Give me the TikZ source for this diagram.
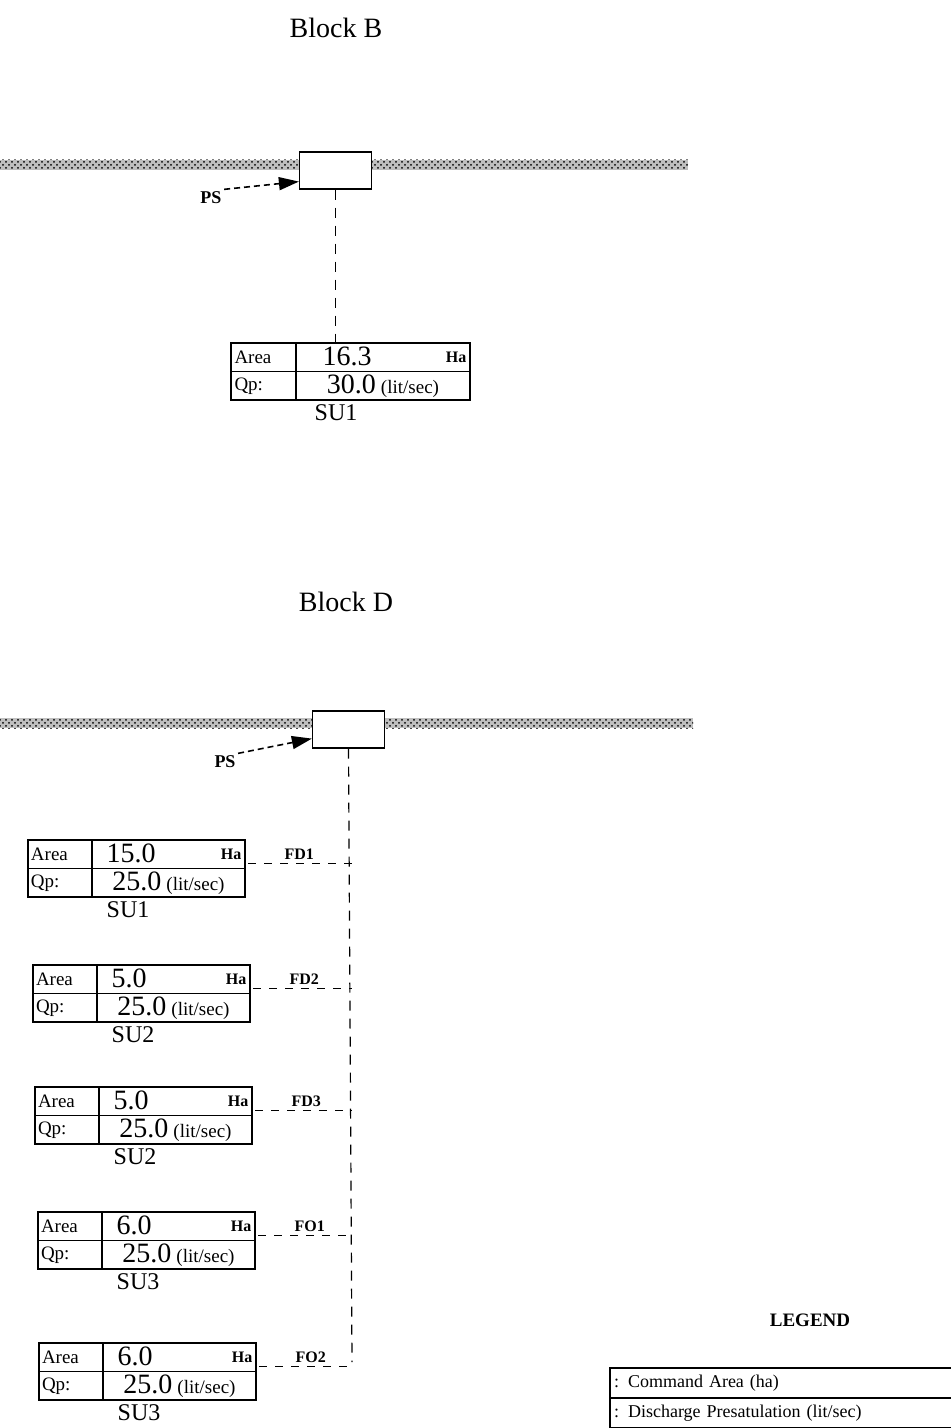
\documentclass[tikz,border=0pt]{standalone}
\usepackage{fontspec}
\setmainfont{Liberation Serif}
\usepackage{tikz}
\usetikzlibrary{positioning,calc,patterns,arrows.meta}

\newcommand{\qpval}[1]{{\fontsize{14}{14}\selectfont #1}\ {\fontsize{9.5}{10}\selectfont (lit/sec)}}

\tikzset{
  cell/.style={draw,rectangle,inner sep=0pt,outer sep=0pt,minimum height=14.25pt},
  namecell/.style={cell,minimum width=32pt,text width=29pt,align=left,font=\fontsize{9.5}{10}\selectfont},
  valcell/.style={cell,minimum width=76.5pt},
  bignum/.style={inner sep=0pt,font=\fontsize{14}{14}\selectfont},
  haunit/.style={inner sep=0pt,font=\fontsize{8}{8}\selectfont\bfseries},
  sulabel/.style={inner sep=0pt,font=\fontsize{12}{12}\selectfont},
  fdlabel/.style={inner sep=1pt,font=\fontsize{8}{8}\selectfont\bfseries},
  pslabel/.style={inner sep=1pt,font=\fontsize{9}{9}\selectfont\bfseries},
  blocktitle/.style={inner sep=0pt,font=\fontsize{14}{14}\selectfont},
  psbox/.style={draw,rectangle,fill=white,minimum width=36pt,minimum height=18.5pt,inner sep=0pt},
  channel/.style={preaction={fill=black!25},pattern=crosshatch dots,pattern color=black},
  psarrow/.style={densely dashed,line width=0.8pt,-{Triangle[length=10pt,width=6.5pt]}},
  trunk/.style={dashed,dash pattern=on 5pt off 4pt},
  feeder/.style={dashed,dash pattern=on 4pt off 4pt},
  legcell/.style={draw,rectangle,inner sep=0pt,outer sep=0pt,minimum width=195pt,minimum height=15pt,
    text width=191pt,align=left,font=\fontsize{9}{10}\selectfont}
}

\begin{document}
\begin{tikzpicture}[x=0.5pt,y=-0.5pt,line width=0.6pt]
\useasboundingbox (0,0) rectangle (950,1428);

% ---- Block B ----
\node[blocktitle] (titleB) at (336,28) {Block B};

\path[channel] (0,160) rectangle (299,170);
\path[channel] (372,160) rectangle (688,170);
\node[psbox] (boxB) at (335.5,170.5) {};
\node[pslabel] (psB) at (211,198) {PS};
\draw[psarrow] (psB.north east) -- ([yshift=4pt]boxB.south west);

\node[namecell,anchor=north west,minimum width=32.5pt] (aB) at (231,343) {Area};
\node[valcell,right=0pt of aB,minimum width=87pt] (vB) {};
\node[namecell,below=0pt of aB,minimum width=32.5pt] (qB) {Qp:};
\node[valcell,right=0pt of qB,minimum width=87pt] (wB) {\qpval{30.0}};
\draw[line width=1pt] (aB.north west) rectangle (wB.south east);
\node[bignum,anchor=west] (nB) at ($(vB.west)+(26,-1)$) {16.3};
\node[haunit,anchor=east] (hB) at ($(vB.east)+(-3,0)$) {Ha};
\node[sulabel,anchor=north] (sB) at ($(wB.south west)+(40,4)$) {SU1};

\draw[trunk] (boxB.south) -- (boxB.south |- vB.north);

% ---- Block D ----
\node[blocktitle] (titleD) at (346,602) {Block D};

\path[channel] (0,718) rectangle (313,728);
\path[channel] (384,718) rectangle (693,728);
\node[psbox] (boxD) at (348.5,729.5) {};
\node[pslabel] (psD) at (225,762) {PS};
\draw[psarrow] (psD.north east) -- ([yshift=5pt]boxD.south west);

\coordinate (trunkD) at (352,1362);
\draw[trunk] (boxD.south) -- (trunkD);

\foreach \i/\x/\y/\ar/\su/\fd in {1/28/840/15.0/SU1/FD1, 2/33/965/5.0/SU2/FD2,
    3/35/1087/5.0/SU2/FD3, 4/38/1212/6.0/SU3/FO1, 5/39/1343/6.0/SU3/FO2}{
  \node[namecell,anchor=north west] (a\i) at (\x,\y) {Area};
  \node[valcell,right=0pt of a\i] (v\i) {};
  \node[namecell,below=0pt of a\i] (q\i) {Qp:};
  \node[valcell,right=0pt of q\i] (w\i) {\qpval{25.0}};
  \draw[line width=1pt] (a\i.north west) rectangle (w\i.south east);
  \node[bignum,anchor=west] (n\i) at ($(v\i.west)+(14,-1)$) {\ar};
  \node[haunit,anchor=east] (h\i) at ($(v\i.east)+(-3,0)$) {Ha};
  \node[sulabel,anchor=north] (s\i) at ($(w\i.south west)+(36,4)$) {\su};
  \coordinate (j\i) at ($(w\i.north east)+(3,-5)$);
  \node[fdlabel,anchor=south west] (f\i) at ($(j\i)+(34,-1)$) {\fd};
  \draw[feeder] (j\i) -- (trunkD |- j\i);
}

% ---- legend ----
\node[font=\fontsize{9.5}{10}\selectfont\bfseries] (legtitle) at (810,1320) {LEGEND};
\node[legcell,anchor=north west] (leg1) at (610,1368) {: Command Area (ha)};
\node[legcell,below=0pt of leg1] (leg2) {: Discharge Presatulation (lit/sec)};
\draw[line width=1.2pt] (leg1.north west) -- (leg2.south west);

\end{tikzpicture}
\end{document}
